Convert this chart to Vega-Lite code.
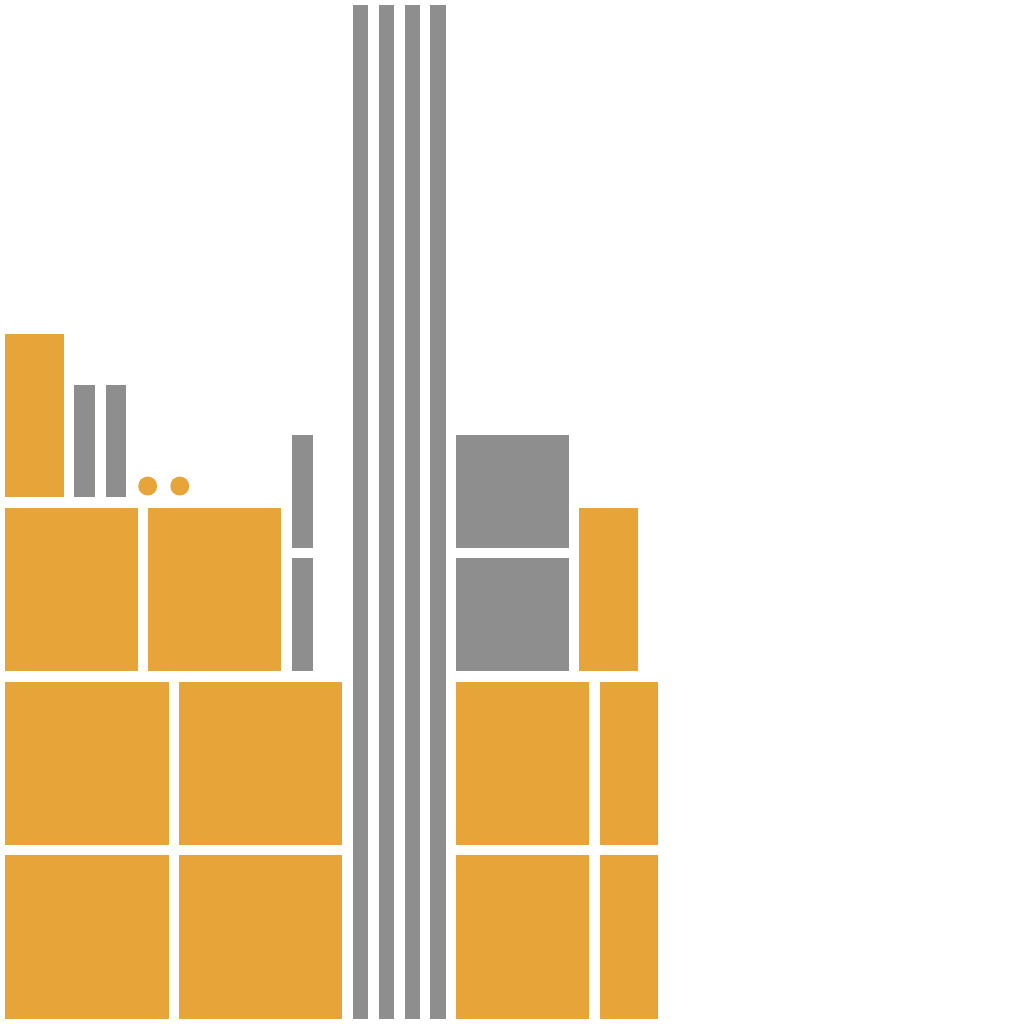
{
  "$schema": "https://vega.github.io/schema/vega-lite/v6.json",
  "autosize": {"type": "fit", "contains": "padding"},
  "width": 1024,
  "height": 1024,
  "padding": 0,
  "background": "white",
  "config": {"view": {"stroke": null}},
  "datasets": {
    "blocks": [
      {"x": 5, "x2": 169, "y": 5, "y2": 169, "group": "A"},
      {"x": 179, "x2": 342, "y": 5, "y2": 169, "group": "A"},
      {"x": 456, "x2": 589, "y": 5, "y2": 169, "group": "A"},
      {"x": 600, "x2": 658, "y": 5, "y2": 169, "group": "A"},
      {"x": 5, "x2": 169, "y": 179, "y2": 342, "group": "A"},
      {"x": 179, "x2": 342, "y": 179, "y2": 342, "group": "A"},
      {"x": 456, "x2": 589, "y": 179, "y2": 342, "group": "A"},
      {"x": 600, "x2": 658, "y": 179, "y2": 342, "group": "A"},
      {"x": 5, "x2": 138, "y": 353, "y2": 516, "group": "A"},
      {"x": 148, "x2": 281, "y": 353, "y2": 516, "group": "A"},
      {"x": 579, "x2": 638, "y": 353, "y2": 516, "group": "A"},
      {"x": 292, "x2": 313, "y": 353, "y2": 466, "group": "B"},
      {"x": 292, "x2": 313, "y": 476, "y2": 589, "group": "B"},
      {"x": 456, "x2": 569, "y": 353, "y2": 466, "group": "B"},
      {"x": 456, "x2": 569, "y": 476, "y2": 589, "group": "B"},
      {"x": 5, "x2": 64, "y": 527, "y2": 690, "group": "A"},
      {"x": 74, "x2": 95, "y": 527, "y2": 639, "group": "B"},
      {"x": 106, "x2": 126, "y": 527, "y2": 639, "group": "B"},
      {"x": 353, "x2": 368, "y": 5, "y2": 1019, "group": "B"},
      {"x": 379, "x2": 394, "y": 5, "y2": 1019, "group": "B"},
      {"x": 405, "x2": 420, "y": 5, "y2": 1019, "group": "B"},
      {"x": 430, "x2": 446, "y": 5, "y2": 1019, "group": "B"}
    ],
    "dots": [
      {"x": 147.7, "y": 538, "group": "A"},
      {"x": 179.8, "y": 538, "group": "A"}
    ]
  },
  "layer": [
    {
      "data": {"name": "blocks"},
      "mark": {"type": "rect", "strokeWidth": 0},
      "encoding": {
        "x": {"field": "x", "type": "quantitative", "scale": {"domain": [0, 1024], "nice": false, "zero": false}, "axis": null},
        "x2": {"field": "x2"},
        "y": {"field": "y", "type": "quantitative", "scale": {"domain": [0, 1024], "nice": false, "zero": false}, "axis": null},
        "y2": {"field": "y2"},
        "color": {"field": "group", "type": "nominal", "scale": {"domain": ["A", "B"], "range": ["#e7a438", "#8e8e8e"]}, "legend": null}
      }
    },
    {
      "data": {"name": "dots"},
      "mark": {"type": "point", "shape": "circle", "filled": true, "opacity": 1, "size": 360, "strokeWidth": 0},
      "encoding": {
        "x": {"field": "x", "type": "quantitative"},
        "y": {"field": "y", "type": "quantitative"},
        "color": {"field": "group", "type": "nominal", "legend": null}
      }
    }
  ]
}
